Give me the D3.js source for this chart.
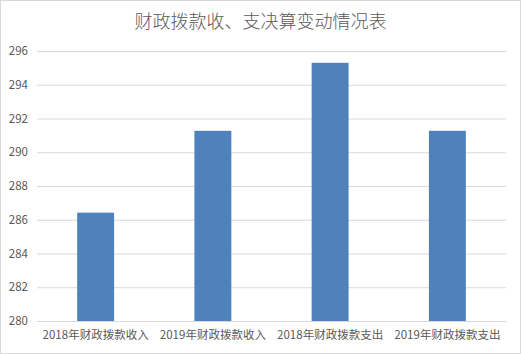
<!DOCTYPE html>
<html><head><meta charset="utf-8">
<script src="https://cdn.jsdelivr.net/npm/d3@7"></script>
<style>body{margin:0;background:#fff}svg{display:block}</style>
</head><body><svg id="c" width="521" height="354"></svg>
<script>
const categories = ["2018年财政拨款收入","2019年财政拨款收入","2018年财政拨款支出","2019年财政拨款支出"];
const values = [286.42, 291.27, 295.3, 291.27];
const yTicks = [280,282,284,286,288,290,292,294,296];
const title = "财政拨款收、支决算变动情况表";

const svg = d3.select("#c");
const W = 521, H = 354;
const font = "'Noto Sans CJK SC', 'Noto Sans', sans-serif";
svg.append("rect").attr("x",0.5).attr("y",0.5).attr("width",W-1).attr("height",H-1)
  .attr("fill","#fff").attr("stroke","#d9d9d9");

const m = {left:37, right:15, top:51, bottom:33};
const x = d3.scaleBand().domain(categories).range([m.left, W-m.right]).paddingInner(0.685).paddingOuter(0.3425);
const y = d3.scaleLinear().domain([280,296]).range([H-m.bottom, m.top]);

svg.append("text").attr("x",W/2).attr("y",28).attr("text-anchor","middle")
  .attr("font-family",font).attr("font-size",18).attr("font-weight",300).attr("fill","#595959").text(title);

const ya = svg.append("g").attr("transform",`translate(${m.left},0)`)
  .call(d3.axisLeft(y).tickValues(yTicks).tickSize(-(W-m.left-m.right)).tickPadding(9).tickFormat(d3.format("d")));
ya.select(".domain").remove();
ya.selectAll("line").attr("stroke","#d9d9d9");
ya.selectAll("text").attr("font-family",font).attr("font-size",11.5).attr("fill","#595959");

svg.append("g").selectAll("rect").data(values).join("rect")
  .attr("x",(d,i)=>x(categories[i])).attr("width",x.bandwidth())
  .attr("y",d=>y(d)).attr("height",d=>y(280)-y(d)).attr("fill","#4f81bd");

const xa = svg.append("g").attr("transform",`translate(0,${H-m.bottom})`)
  .call(d3.axisBottom(x.copy().paddingInner(0).paddingOuter(0)).tickSize(0).tickPadding(10));
xa.select(".domain").attr("stroke","#d9d9d9");
xa.selectAll("text").attr("font-family",font).attr("font-size",11.5).attr("fill","#595959");
</script></body></html>
